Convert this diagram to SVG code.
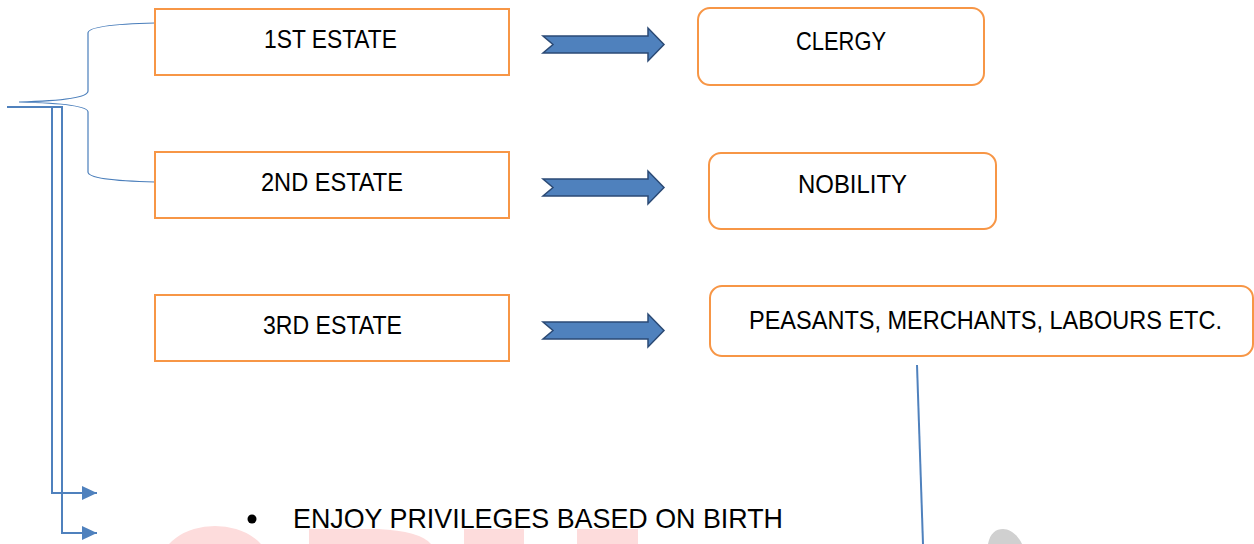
<svg xmlns="http://www.w3.org/2000/svg" width="1254" height="544" viewBox="0 0 1254 544">
<style>
.box{fill:#fff;stroke:#F79646;stroke-width:2}
.t{font-family:"Liberation Sans",Arial,sans-serif;font-size:25px;fill:#000;text-anchor:start}
.blk{fill:#4F81BD;stroke:#2B4A75;stroke-width:1.5;stroke-linejoin:miter}
.brace{fill:none;stroke:#4A7EBB;stroke-width:1.2}
.conn{fill:none;stroke:#4F81BD;stroke-width:2}
.wm{fill:#FDDCDC}
</style>
<defs>
<marker id="ah" markerUnits="userSpaceOnUse" markerWidth="16" markerHeight="14" refX="15" refY="7" orient="auto">
<path d="M0,0 L15,7 L0,14 Z" fill="#4F81BD"/>
</marker>
</defs>
<rect width="1254" height="544" fill="#fff"/>
<g id="watermark">
<ellipse class="wm" cx="215" cy="566" rx="55" ry="40"/>
<path class="wm" d="M309,544 L309,529 L378,529 Q420,531 431,544 Z"/>
<rect class="wm" x="464" y="529" width="60" height="15"/>
<rect class="wm" x="577" y="529" width="61" height="15"/>
<path d="M988,544 C990,533 996,529 1003,529 C1010,529 1018,535 1022,544 Z" fill="#D0D0D0"/>
</g>
<g id="connectors">
<path class="brace" d="M155,23 C112,24 88,27 88,33 V91 C88,98 60,101 19,102 C60,103 88,106 88,112 V172 C88,178 112,181 155,182"/>
<path class="conn" d="M7,107 H52 V493 H97" marker-end="url(#ah)"/>
<path class="conn" d="M20,107 H62 V533 H97" marker-end="url(#ah)"/>
<path d="M917,365 L923,544" fill="none" stroke="#4F81BD" stroke-width="2"/>
<path class="blk" d="M543,36 H648 V28 L664,44.5 L648,61 V53 H543 L553,44.5 Z"/>
<path class="blk" d="M543,179 H648 V171 L664,187.5 L648,204 V196 H543 L553,187.5 Z"/>
<path class="blk" d="M543,322 H648 V314 L664,330.5 L648,347 V339 H543 L553,330.5 Z"/>
</g>
<g id="estate1">
<rect class="box" x="155" y="9" width="354" height="66"/>
<text class="t" x="264" y="48" textLength="133" lengthAdjust="spacingAndGlyphs">1ST ESTATE</text>
</g>
<g id="estate2">
<rect class="box" x="155" y="152" width="354" height="66"/>
<text class="t" x="261" y="191" textLength="142" lengthAdjust="spacingAndGlyphs">2ND ESTATE</text>
</g>
<g id="estate3">
<rect class="box" x="155" y="295" width="354" height="66"/>
<text class="t" x="263" y="334" textLength="139" lengthAdjust="spacingAndGlyphs">3RD ESTATE</text>
</g>
<g id="clergy">
<rect class="box" x="698" y="8" width="286" height="77" rx="12"/>
<text class="t" x="796" y="50" textLength="90" lengthAdjust="spacingAndGlyphs">CLERGY</text>
</g>
<g id="nobility">
<rect class="box" x="709" y="153" width="287" height="76" rx="12"/>
<text class="t" x="798" y="193" textLength="109" lengthAdjust="spacingAndGlyphs">NOBILITY</text>
</g>
<g id="peasants">
<rect class="box" x="710" y="286" width="543" height="70" rx="12"/>
<text class="t" x="749" y="329" textLength="473" lengthAdjust="spacingAndGlyphs">PEASANTS, MERCHANTS, LABOURS ETC.</text>
</g>
<g id="bullet">
<circle cx="252" cy="519" r="4.5" fill="#000"/>
<text class="t" x="293" y="528" style="font-size:28px" textLength="490" lengthAdjust="spacingAndGlyphs">ENJOY PRIVILEGES BASED ON BIRTH</text>
</g>
</svg>
